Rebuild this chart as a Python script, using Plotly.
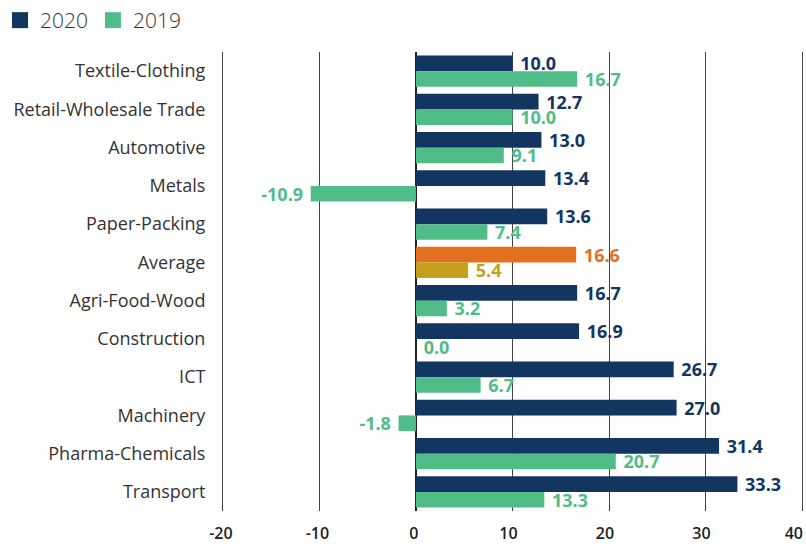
import plotly.graph_objects as go

categories = ["Textile-Clothing", "Retail-Wholesale Trade", "Automotive", "Metals",
              "Paper-Packing", "Average", "Agri-Food-Wood", "Construction", "ICT",
              "Machinery", "Pharma-Chemicals", "Transport"]
values_2020 = [10.0, 12.7, 13.0, 13.4, 13.6, 16.6, 16.7, 16.9, 26.7, 27.0, 31.4, 33.3]
values_2019 = [16.7, 10.0, 9.1, -10.9, 7.4, 5.4, 3.2, 0.0, 6.7, -1.8, 20.7, 13.3]
x_ticks = [-20, -10, 0, 10, 20, 30, 40]
x_ticklabels = ["-20", "-10", "0", "10\u00a0", "20\u00a0", "30\u00a0", "40\u00a0\u00a0\u00a0"]

NAVY = "#133660"
GREEN = "#50BD89"
ORANGE = "#E3701E"
GOLD = "#C4A11D"

c2020 = [ORANGE if c == "Average" else NAVY for c in categories]
c2019 = [GOLD if c == "Average" else GREEN for c in categories]

FONT = "Open Sans"
NB = "\u00a0"


def label(v):
    s = f"{v:.1f}"
    return s + NB if v < 0 else NB + s


fig = go.Figure()
fig.add_trace(go.Bar(
    name="2020", y=categories, x=values_2020, orientation="h",
    marker=dict(color=c2020, line=dict(width=0)),
    text=[label(v) for v in values_2020], textposition="outside",
    constraintext="none",
    textfont=dict(family=FONT, size=18, color=c2020, weight="bold"),
    cliponaxis=False, showlegend=False,
))
fig.add_trace(go.Bar(
    name="2019", y=categories, x=values_2019, orientation="h",
    marker=dict(color=c2019, line=dict(width=0)),
    text=[label(v) for v in values_2019], textposition="outside",
    constraintext="none",
    textfont=dict(family=FONT, size=18, color=c2019, weight="bold"),
    cliponaxis=False, showlegend=False,
))
# legend entries
fig.add_trace(go.Scatter(x=[None], y=[None], mode="markers", name="2020",
                         marker=dict(symbol="square", size=16, color=NAVY)))
fig.add_trace(go.Scatter(x=[None], y=[None], mode="markers", name="2019",
                         marker=dict(symbol="square", size=16, color=GREEN)))

fig.update_layout(
    width=806, height=546,
    margin=dict(l=219.6, r=2, t=52, b=35, autoexpand=False),
    paper_bgcolor="white", plot_bgcolor="white",
    barmode="group", bargap=0.18, bargroupgap=0,
    font=dict(family=FONT, color="#333333"),
    legend=dict(orientation="h", xref="container", yref="container",
                x=-0.018, y=1.0, xanchor="left", yanchor="top",
                font=dict(size=21, color="#333333", weight=300), itemwidth=30,
                traceorder="normal"),
    xaxis=dict(range=[-20.3, 40.2], tickvals=x_ticks, ticktext=x_ticklabels,
               automargin=False,
               showgrid=True, gridcolor="#444444", gridwidth=1,
               zeroline=True, zerolinecolor="#222222", zerolinewidth=2,
               showline=False, ticks="", ticklabelshift=-2,
               ticklabeloverflow="allow",
               tickfont=dict(size=16, color="#222222", family=FONT, weight=600),
               ticklabelstandoff=11),
    yaxis=dict(categoryorder="array", categoryarray=categories, autorange=False,
               automargin=False,
               range=[11.5, -0.5], showgrid=False, zeroline=False, showline=False,
               ticks="outside", ticklen=10, tickcolor="rgba(0,0,0,0)",
               tickfont=dict(size=18, color="#333333", family=FONT)),
)

fig.write_html("out.html", config={"displayModeBar": False},
               post_script="document.body.style.margin='0';")
